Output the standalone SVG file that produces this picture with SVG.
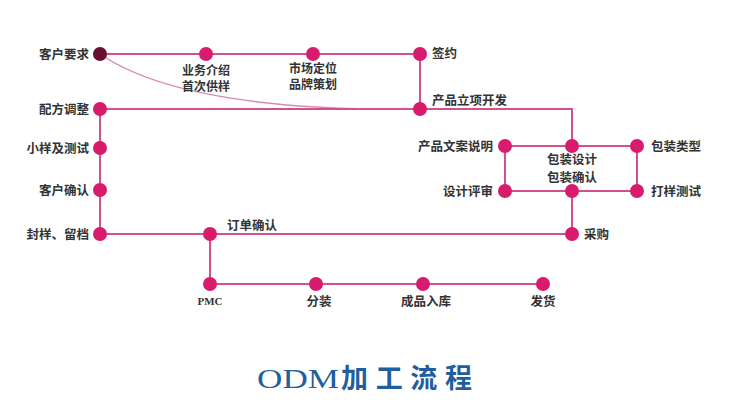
<svg xmlns="http://www.w3.org/2000/svg" width="732" height="400" viewBox="0 0 732 400">
<style>
.ln{fill:none;stroke:#d2508c;stroke-width:2}
.cv{fill:none;stroke:#d98ab0;stroke-width:1.5}
.dot{fill:#d81b6c}
.t{font-family:"Noto Sans CJK SC","Liberation Sans",sans-serif;font-size:12.5px;font-weight:bold;fill:#333}
.s{font-size:12px}
.e{text-anchor:end}
.m{text-anchor:middle}
.title{font-weight:bold;fill:#1f5f9e}
</style>
<rect width="732" height="400" fill="#ffffff"/>
<g id="connectors">
<path class="cv" d="M100,54 Q185,112 420,109"/>
<path class="ln" d="M100,54 H420 V109"/>
<path class="ln" d="M100,109 H572 V146"/>
<path class="ln" d="M100,109 V234 H572"/>
<path class="ln" d="M505,146 H637 V191 H505 Z"/>
<path class="ln" d="M572,191 V234"/>
<path class="ln" d="M210,234 V284 H543"/>
</g>
<g id="n-kehuyaoqiu"><circle cx="100" cy="54" r="7" fill="#6a0d35"/><text class="t e" x="89" y="58.5">客户要求</text></g>
<g id="n-yewu"><circle class="dot" cx="206" cy="54" r="7"/><text class="t s m" x="206" y="75">业务介绍</text><text class="t s m" x="206" y="91">首次供样</text></g>
<g id="n-shichang"><circle class="dot" cx="313" cy="54" r="7"/><text class="t s m" x="313" y="73">市场定位</text><text class="t s m" x="313" y="89">品牌策划</text></g>
<g id="n-qianyue"><circle class="dot" cx="420" cy="54" r="7"/><text class="t" x="432" y="58">签约</text></g>
<g id="n-lixiang"><circle class="dot" cx="420" cy="109" r="7"/><text class="t" x="432" y="104.5">产品立项开发</text></g>
<g id="n-peifang"><circle class="dot" cx="100" cy="109" r="7"/><text class="t e" x="89" y="113.5">配方调整</text></g>
<g id="n-xiaoyang"><circle class="dot" cx="100" cy="148" r="7"/><text class="t e" x="89" y="153">小样及测试</text></g>
<g id="n-queren"><circle class="dot" cx="100" cy="190" r="7"/><text class="t e" x="89" y="195">客户确认</text></g>
<g id="n-fengyang"><circle class="dot" cx="100" cy="234" r="7"/><text class="t e" x="89" y="238.5">封样、留档</text></g>
<g id="n-dingdan"><circle class="dot" cx="210" cy="234" r="7"/><text class="t" x="227" y="229.5">订单确认</text></g>
<g id="n-caigou"><circle class="dot" cx="572" cy="234" r="7"/><text class="t" x="584" y="238.5">采购</text></g>
<g id="n-wenan"><circle class="dot" cx="505" cy="146" r="7"/><text class="t e" x="493" y="150.5">产品文案说明</text></g>
<g id="n-baozhuangsheji"><circle class="dot" cx="572" cy="146" r="7"/><text class="t m" x="572" y="164">包装设计</text><text class="t m" x="572" y="182">包装确认</text></g>
<g id="n-leixing"><circle class="dot" cx="637" cy="146" r="7"/><text class="t" x="651" y="150.5">包装类型</text></g>
<g id="n-pingshen"><circle class="dot" cx="505" cy="191" r="7"/><text class="t e" x="493" y="195.5">设计评审</text></g>
<g id="n-mid"><circle class="dot" cx="572" cy="191" r="7"/></g>
<g id="n-dayang"><circle class="dot" cx="637" cy="191" r="7"/><text class="t" x="651" y="195.5">打样测试</text></g>
<g id="n-pmc"><circle class="dot" cx="210" cy="284" r="7"/><text x="210" y="305" text-anchor="middle" style="font-family:'Liberation Serif',serif;font-size:11px;font-weight:bold;fill:#333">PMC</text></g>
<g id="n-fenzhuang"><circle class="dot" cx="316" cy="284" r="7"/><text class="t m" x="319" y="305.5">分装</text></g>
<g id="n-ruku"><circle class="dot" cx="423" cy="284" r="7"/><text class="t m" x="426" y="305.5">成品入库</text></g>
<g id="n-fahuo"><circle class="dot" cx="543" cy="284" r="7"/><text class="t m" x="543" y="305.5">发货</text></g>
<g id="title">
<text class="title" x="257" y="388" textLength="82" lengthAdjust="spacingAndGlyphs" style="font-family:'Liberation Serif',serif;font-size:28px;font-weight:normal">ODM</text>
<text class="title" x="341" y="388" textLength="131" style="font-family:'Noto Sans CJK SC',sans-serif;font-size:27px">加工流程</text>
</g>
</svg>
